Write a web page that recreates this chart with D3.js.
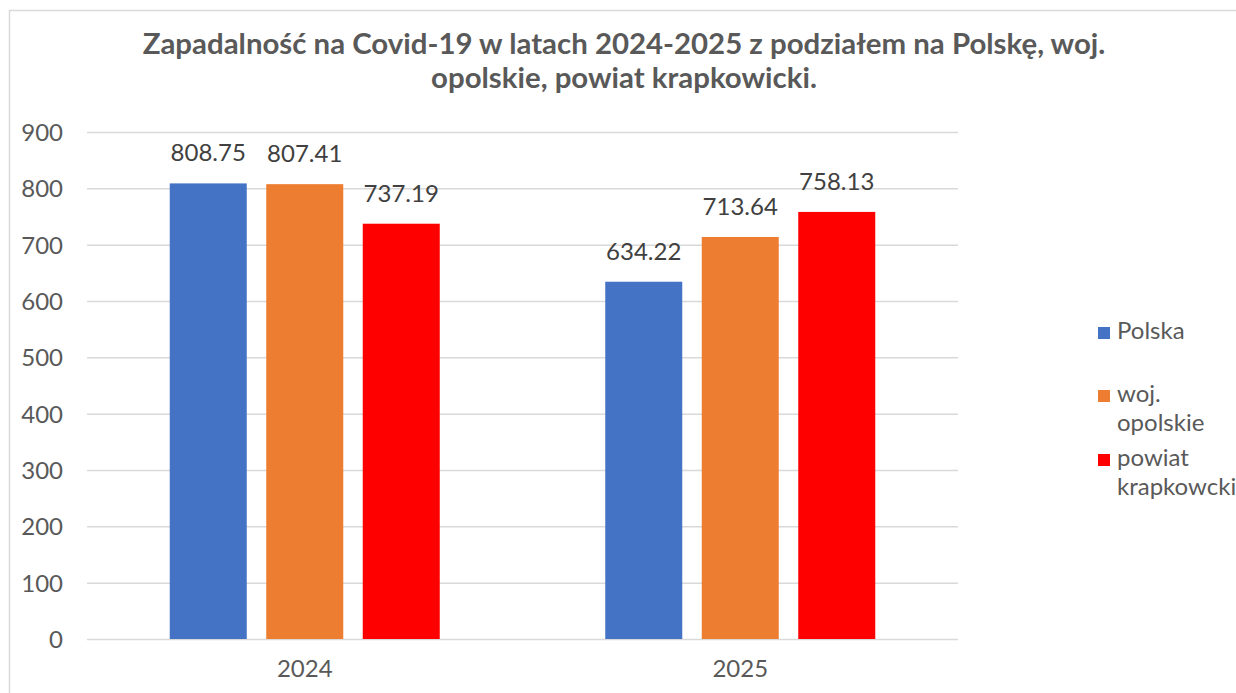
<!DOCTYPE html>
<html><head><meta charset="utf-8">
<script src="https://cdn.jsdelivr.net/npm/d3@7"></script>
<style>body{margin:0;background:#fff}svg{display:block}text{font-family:Lato,"Open Sans",sans-serif}</style>
</head><body><svg id="c" width="1236" height="693"></svg>
<script>
const categories = ["2024", "2025"];
const seriesNames = ["Polska", "woj. opolskie", "powiat krapkowicki"];
const legendLabels = [["Polska"], ["woj.", "opolskie"], ["powiat", "krapkowcki"]];
const polska = [808.75, 634.22];
const opolskie = [807.41, 713.64];
const krapkowicki = [737.19, 758.13];
const yTicks = [0, 100, 200, 300, 400, 500, 600, 700, 800, 900];
const colors = ["#4472C4", "#ED7D31", "#FF0000"];
const titleLines = ["Zapadalność na Covid-19 w latach 2024-2025 z podziałem na Polskę, woj.", "opolskie, powiat krapkowicki."];

const values = [polska, opolskie, krapkowicki];
const svg = d3.select("#c");
// chart border
svg.append("rect").attr("x", 9.5).attr("y", 10.5).attr("width", 1240).attr("height", 700)
  .attr("fill", "none").attr("stroke", "#d9d9d9").attr("stroke-width", 1.5);

const L = 87, R = 958, T = 132, B = 639;
const y = d3.scaleLinear().domain([0, 900]).range([B, T]);
const x0 = d3.scaleBand().domain(categories).range([L, R]).paddingInner(0.38).paddingOuter(0.19);
const x1 = d3.scaleBand().domain(d3.range(seriesNames.length)).range([0, x0.bandwidth()]).paddingInner(0.202);

// gridlines
const yAxis = d3.axisLeft(y).tickValues(yTicks).tickSize(-(R - L)).tickPadding(24).tickFormat(d3.format("d"));
const gy = svg.append("g").attr("transform", `translate(${L},0)`).call(yAxis);
gy.select(".domain").remove();
gy.selectAll(".tick line").attr("stroke", "#d9d9d9").attr("stroke-width", 1.5);
gy.selectAll(".tick text").attr("fill", "#595959").attr("font-size", 24).attr("dy", "0.36em");

// x axis labels
const xAxis = d3.axisBottom(x0).tickSize(0).tickPadding(21);
const gx = svg.append("g").attr("transform", `translate(0,${B})`).call(xAxis);
gx.select(".domain").remove();
gx.selectAll(".tick text").attr("fill", "#595959").attr("font-size", 24);

// bars
const groups = svg.append("g").selectAll("g").data(categories).join("g")
  .attr("transform", d => `translate(${x0(d)},0)`);
groups.each(function(cat, ci) {
  const g = d3.select(this);
  values.forEach((vals, si) => {
    const v = vals[ci];
    g.append("rect").attr("x", x1(si)).attr("width", x1.bandwidth())
      .attr("y", y(v)).attr("height", y(0) - y(v)).attr("fill", colors[si]);
    g.append("text").attr("x", x1(si) + x1.bandwidth() / 2).attr("y", y(v) - 22)
      .attr("text-anchor", "middle").attr("font-size", 24).attr("fill", "#404040")
      .text(v.toFixed(2));
  });
});

// title
svg.append("g").selectAll("text").data(titleLines).join("text")
  .attr("x", 624).attr("y", (d, i) => 54 + i * 34).attr("text-anchor", "middle")
  .attr("font-size", 29.4).attr("font-weight", "bold").attr("fill", "#595959").text(d => d);

// legend
const legendY = [339, 402, 466];
const lg = svg.append("g");
legendLabels.forEach((lines, i) => {
  lg.append("rect").attr("x", 1098).attr("y", legendY[i] - 12).attr("width", 12).attr("height", 12).attr("fill", colors[i]);
  lines.forEach((t, j) => {
    lg.append("text").attr("x", 1117).attr("y", legendY[i] + j * 29).attr("font-size", 24)
      .attr("fill", "#595959").text(t);
  });
});
</script></body></html>
